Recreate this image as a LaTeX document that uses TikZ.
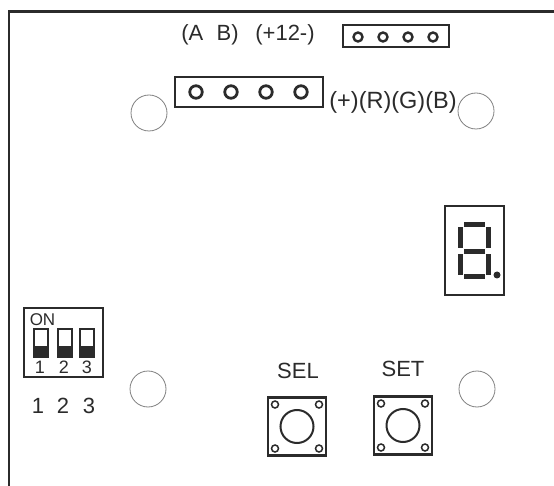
\documentclass[tikz,border=0pt]{standalone}
\usepackage{fontspec}
\setmainfont{Liberation Sans}
\definecolor{ink}{gray}{0.17}
\begin{document}
\begin{tikzpicture}[x=1pt, y=-1pt]
 \tikzstyle{outline} = [ draw=ink, line width=2.5pt ]
 \tikzstyle{hole} = [ circle, draw=ink, inner sep=0pt, line width=2.4pt ]
 \tikzstyle{mount} = [ circle, draw=black!50, line width=0.8pt, minimum size=36pt, inner sep=0pt ]
 \tikzstyle{label} = [ text=ink, inner sep=0pt, font=\fontsize{22}{22}\selectfont ]
 \tikzstyle{segment} = [ fill=ink ]
\useasboundingbox (0,0) rectangle (554,486);
% board edge
\draw [ink, line width=2.6pt] (9,486) -- (9,11.5) -- (554,11.5);
% place labels
\node [label] (lab-ab) at (210,35) {(A\hspace{0.6em}B)};
\node [label] (lab-12) at (285,35) {(+12-)};
\node [label, font=\fontsize{23.5}{23.5}\selectfont] (lab-rgb) at (393,102) {(+)(R)(G)(B)};
\node [label] (lab-sel) at (298,371) {SEL};
\node [label] (lab-set) at (403,369) {SET};
% mounting holes
\node [mount] (mount-1) at (149,113) {};
\node [mount] (mount-2) at (476,111) {};
\node [mount] (mount-3) at (148,389) {};
\node [mount] (mount-4) at (477,389) {};
% small header
\draw [outline] (343,25) rectangle (449,47);
\foreach \x in {358,383,408,433}
  \node [hole, minimum size=9pt] (small-\x) at (\x,37) {};
% large header
\draw [outline, line width=2.8pt] (175,77) rectangle (323,107);
\foreach \x in {196,231,266,301}
  \node [hole, minimum size=12.5pt, line width=2.8pt] (large-\x) at (\x,92) {};
% dip switch
\draw [outline, line width=2.8pt] (24,308) rectangle (103,377);
\node [label, font=\fontsize{17}{17}\selectfont] (dip-on) at (42.5,320) {ON};
\foreach \x in {34,58,80} {
  \draw [outline, line width=2pt] (\x,329) rectangle ++(14,28);
  \fill [ink] (\x,346) rectangle ++(14,11);
}
\foreach \x/\n in {40/1, 64/2, 87/3}
  \node [label, font=\fontsize{18}{18}\selectfont] (dip-\n) at (\x,367) {\n};
\foreach \x/\n in {38/1, 63/2, 89/3}
  \node [label] (num-\n) at (\x,406) {\n};
% push buttons
\foreach \cx/\cy/\name in {297/426.5/sel, 403/425.5/set} {
  \node [draw=ink, line width=2.6pt, minimum size=58pt, inner sep=0pt] (btn-\name) at (\cx,\cy) {};
  \node [hole, minimum size=33pt, line width=2pt] (cap-\name) at (btn-\name) {};
  \foreach \dx in {-22,22}
    \foreach \dy in {-22,22}
      \node [hole, minimum size=7pt, line width=1.5pt] at (\cx+\dx,\cy+\dy) {};
}
% seven segment display
\draw [outline] (445,206) rectangle (504,295);
\fill [segment] (464,222) rectangle (485,227);
\fill [segment] (464,249) rectangle (485,254);
\fill [segment] (464,274) rectangle (485,279);
\fill [segment] (458,227) rectangle (463,248);
\fill [segment] (486,227) rectangle (491,248);
\fill [segment] (458,254) rectangle (463,275);
\fill [segment] (486,254) rectangle (491,275);
\node [circle, fill=ink, minimum size=7pt, inner sep=0pt] (seg-dot) at (497,275) {};
\end{tikzpicture}
\end{document}
